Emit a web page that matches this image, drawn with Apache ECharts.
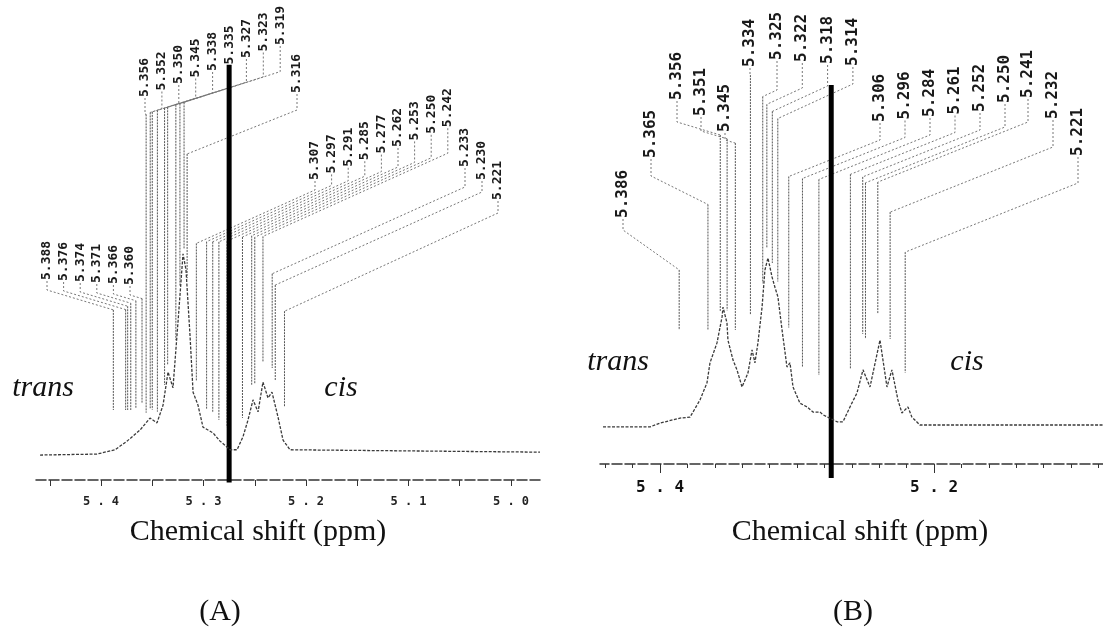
<!DOCTYPE html>
<html>
<head>
<meta charset="utf-8">
<title>trans / cis NMR</title>
<script src="https://cdn.jsdelivr.net/npm/echarts@6/dist/echarts.min.js"></script>
<style>
    html, body { margin: 0; padding: 0; background: #fff; }
    #main { width: 1103px; height: 630px; }
</style>
</head>
<body>
<div id="main"></div>
<script>
// spectrum traces, [ppm, intensity]
var spectrumA = [
    [5.4595, 5.2], [5.4039, 5.4], [5.3863, 6.3], [5.3746, 8.1], [5.3620, 10.4],
    [5.3522, 12.9], [5.3454, 11.9], [5.3395, 15.6], [5.3346, 22.5], [5.3298, 19.2],
    [5.3249, 32.9], [5.3200, 47.1], [5.3171, 43.8], [5.3132, 30.2], [5.3102, 18.3],
    [5.3054, 15.6], [5.3005, 11.0], [5.2907, 9.8], [5.2839, 8.1], [5.2741, 6.3],
    [5.2673, 6.3], [5.2615, 9.0], [5.2566, 12.5], [5.2517, 16.7], [5.2468, 14.2],
    [5.2420, 20.4], [5.2371, 17.1], [5.2332, 18.3], [5.2273, 13.1], [5.2224, 8.3],
    [5.2156, 6.3], [4.9717, 5.8]
];
var spectrumB = [
    [5.4416, 8.0], [5.4073, 8.0], [5.4000, 8.8], [5.3854, 9.9], [5.3781, 10.1],
    [5.3708, 13.8], [5.3657, 17.5], [5.3635, 21.8], [5.3584, 26.1], [5.3547, 31.7],
    [5.3540, 33.8], [5.3511, 30.4], [5.3504, 26.7], [5.3467, 22.4], [5.3438, 20.3],
    [5.3401, 16.6], [5.3358, 19.6], [5.3328, 24.6], [5.3307, 21.8], [5.3285, 26.1],
    [5.3255, 33.8], [5.3234, 41.8], [5.3212, 44.4], [5.3182, 40.3], [5.3161, 38.1],
    [5.3139, 36.0], [5.3109, 28.9], [5.3073, 20.9], [5.3051, 21.8], [5.3029, 16.6],
    [5.2978, 13.1], [5.2927, 12.3], [5.2883, 11.2], [5.2832, 11.2], [5.2810, 10.6],
    [5.2708, 9.1], [5.2664, 9.1], [5.2613, 12.3], [5.2562, 15.3], [5.2518, 20.3],
    [5.2467, 16.6], [5.2394, 26.7], [5.2343, 16.6], [5.2307, 20.3], [5.2263, 13.8],
    [5.2234, 11.0], [5.2190, 12.3], [5.2161, 10.1], [5.2102, 8.4], [5.0766, 8.4]
];

// picked peaks (ppm)
var peaksA = [
    5.388, 5.376, 5.374, 5.371, 5.366, 5.360,
    5.356, 5.352, 5.350, 5.345, 5.338, 5.335, 5.327, 5.323, 5.319,
    5.316,
    5.307, 5.297, 5.291, 5.285, 5.277, 5.262, 5.253, 5.250, 5.242,
    5.233, 5.230,
    5.221
];
var peaksB = [
    5.386, 5.365, 5.356, 5.351, 5.345, 5.334, 5.325, 5.322, 5.318, 5.314,
    5.306, 5.296, 5.284, 5.261, 5.252, 5.250, 5.241, 5.232, 5.221
];

// axis ticks and labels
var ticksA = [5.45, 5.40, 5.35, 5.30, 5.25, 5.20, 5.15, 5.10, 5.05, 5.00];
var labelsA = [5.4, 5.3, 5.2, 5.1, 5.0];
var ticksB = [5.44, 5.42, 5.40, 5.38, 5.36, 5.34, 5.32, 5.30, 5.28, 5.26,
    5.24, 5.22, 5.20, 5.18, 5.16, 5.14, 5.12, 5.10, 5.08];
var labelsB = [5.4, 5.2];

var dividerPpm = 5.275;

// label layout (pixels): n peaks per block, text x / bottom, tick length,
// slope of the slanted leader, gap above the trace, lowest end of drop line
var layoutA = [
    { n: 6, x0: 47, dx: 16.6, y0: 280, dy: 1, t0: 10, dt: 0, slope: 0.3, gap: 25, cap: 410 },
    { n: 9, x0: 145, dx: 16.9, y0: 97, dy: -6.5, t0: 17, dt: 1.2, slope: 0.32, gap: 10 },
    { n: 1, x0: 297, dx: 0, y0: 93, dy: 0, t0: 17, dt: 0, slope: 0.4, gap: 10 },
    { n: 9, x0: 315, dx: 16.6, y0: 180, dy: -6.6, t0: 10, dt: 2, slope: 0.45, gap: 20 },
    { n: 2, x0: 465, dx: 17, y0: 167, dy: 13, t0: 20, dt: -8, slope: 0.45, gap: 25 },
    { n: 1, x0: 498, dx: 0, y0: 200, dy: 0, t0: 13, dt: 0, slope: 0.46, gap: 35 }
];
var layoutB = [
    { n: 1, x0: 623, dx: 0, y0: 218, dy: 0, t0: 12, dt: 0, slope: 0.71, gap: 15, cap: 330 },
    { n: 1, x0: 651, dx: 0, y0: 158, dy: 0, t0: 18, dt: 0, slope: 0.5, gap: 15, cap: 330 },
    { n: 3, x0: 677, dx: 24, y0: 100, dy: 16, t0: 22, dt: -7, slope: 0.3, gap: 15, cap: 330 },
    { n: 1, x0: 750, dx: 0, y0: 67, dy: 0, t0: 8, dt: 0, slope: 0.3, gap: 15, cap: 315 },
    { n: 4, x0: 777, dx: 25.3, y0: 60, dy: 2, t0: 30, dt: -4, slope: 0.46, gap: 15, cap: 330 },
    { n: 5, x0: 880, dx: 25, y0: 122, dy: -2.5, t0: 18, dt: 0, slope: 0.4, gap: 37 },
    { n: 2, x0: 1005, dx: 23, y0: 103, dy: -5, t0: 24, dt: 0, slope: 0.4, gap: 37 },
    { n: 1, x0: 1053, dx: 0, y0: 119, dy: 0, t0: 28, dt: 0, slope: 0.4, gap: 37 },
    { n: 1, x0: 1078, dx: 0, y0: 156, dy: 0, t0: 27, dt: 0, slope: 0.4, gap: 37 }
];

var monoFont = '"DejaVu Sans Mono", "Liberation Mono", monospace';
var serifFont = '"Liberation Serif", "DejaVu Serif", serif';

function valueAt(spec, ppm) {
    for (var i = 0; i < spec.length - 1; i++) {
        var a = spec[i], b = spec[i + 1];
        if (ppm <= a[0] && ppm >= b[0]) {
            return a[1] + (b[1] - a[1]) * (a[0] - ppm) / (a[0] - b[0]);
        }
    }
    return spec[spec.length - 1][1];
}

function peakLabels(api, peaks, layout, spec, fontSize, divider) {
    var children = [];
    var k = 0;
    layout.forEach(function (g) {
        for (var i = 0; i < g.n; i++, k++) {
            var ppm = peaks[k];
            var tx = g.x0 + g.dx * i;
            var bottom = g.y0 + g.dy * i;
            var tickEnd = bottom + g.t0 + g.dt * i;
            var dropX = api.coord([ppm, 0])[0];
            var knee = tickEnd + Math.abs(dropX - tx) * g.slope;
            var specY = api.coord([ppm, valueAt(spec, ppm)])[1];
            var dropEnd = Math.min(g.cap || 9999, specY - g.gap);
            if (dropEnd < knee) dropEnd = knee;
            children.push({
                type: 'polyline',
                shape: { points: [[tx, bottom + 1], [tx, tickEnd], [dropX, knee]] },
                style: { stroke: '#777', lineWidth: 1, fill: null, lineDash: [2, 2] }
            });
            children.push({
                type: 'line',
                shape: { x1: dropX, y1: knee, x2: dropX, y2: dropEnd },
                style: { stroke: '#555', lineWidth: 1, lineDash: [2, 1] }
            });
            children.push({
                type: 'text',
                x: tx,
                y: bottom,
                rotation: Math.PI / 2,
                style: {
                    text: ppm.toFixed(3),
                    fontFamily: monoFont,
                    fontWeight: 'bold',
                    fontSize: fontSize,
                    fill: '#1a1a1a',
                    align: 'left',
                    verticalAlign: 'middle'
                }
            });
        }
    });
    var top = api.coord([divider.ppm, divider.top]);
    var bot = api.coord([divider.ppm, divider.bottom]);
    children.push({
        type: 'line',
        shape: { x1: top[0], y1: top[1], x2: bot[0], y2: bot[1] },
        style: { stroke: '#000', lineWidth: 5 }
    });
    return { type: 'group', children: children };
}

function spacedLabel(v) {
    return v.toFixed(1).split('').join(' ');
}

var myChart = echarts.init(document.getElementById('main'));

var option = {
    animation: false,
    backgroundColor: '#fff',
    grid: [
        { left: 34, right: 563, top: 0, bottom: 150, outerBoundsMode: 'none' },
        { left: 600, right: 0, top: 0, bottom: 166, outerBoundsMode: 'none' }
    ],
    xAxis: [
        {
            type: 'value', gridIndex: 0, inverse: true, position: 'bottom',
            min: 4.9717, max: 5.4654,
            splitLine: { show: false },
            axisLine: { onZero: false, lineStyle: { color: '#333', width: 1.5, type: [10, 3] } },
            axisTick: { customValues: ticksA, length: 6, lineStyle: { color: '#333' } },
            axisLabel: {
                customValues: labelsA, formatter: spacedLabel, margin: 16,
                fontFamily: monoFont, fontWeight: 'bold', fontSize: 12, color: '#222'
            }
        },
        {
            type: 'value', gridIndex: 1, inverse: true, position: 'bottom',
            min: 5.0766, max: 5.4438,
            splitLine: { show: false },
            axisLine: { onZero: false, lineStyle: { color: '#333', width: 1.5, type: [10, 3] } },
            axisTick: { customValues: ticksB, length: 4, lineStyle: { color: '#333' } },
            axisLabel: { show: false }
        },
        {
            type: 'value', gridIndex: 1, inverse: true, position: 'bottom',
            min: 5.0766, max: 5.4438,
            splitLine: { show: false },
            axisLine: { show: false, onZero: false },
            axisTick: { customValues: labelsB, length: 9, lineStyle: { color: '#333' } },
            axisLabel: {
                customValues: labelsB, formatter: spacedLabel, margin: 16,
                fontFamily: monoFont, fontWeight: 'bold', fontSize: 16, color: '#111'
            }
        }
    ],
    yAxis: [
        { type: 'value', gridIndex: 0, min: 0, max: 100, show: false },
        { type: 'value', gridIndex: 1, min: 0, max: 100, show: false }
    ],
    series: [
        {
            name: 'A', type: 'line', xAxisIndex: 0, yAxisIndex: 0,
            data: spectrumA, showSymbol: false, silent: true,
            lineStyle: { color: '#3a3a3a', width: 1.3, type: [3, 1.5] }
        },
        {
            name: 'B', type: 'line', xAxisIndex: 1, yAxisIndex: 1,
            data: spectrumB, showSymbol: false, silent: true,
            lineStyle: { color: '#3a3a3a', width: 1.3, type: [3, 1.5] }
        },
        {
            type: 'custom', xAxisIndex: 0, yAxisIndex: 0, silent: true,
            data: [[0, 0]],
            renderItem: function (params, api) {
                return peakLabels(api, peaksA, layoutA, spectrumA, 13,
                    { ppm: dividerPpm, top: 86.5, bottom: -0.5 });
            }
        },
        {
            type: 'custom', xAxisIndex: 1, yAxisIndex: 1, silent: true,
            data: [[0, 0]],
            renderItem: function (params, api) {
                return peakLabels(api, peaksB, layoutB, spectrumB, 16,
                    { ppm: dividerPpm, top: 81.7, bottom: -3 });
            }
        }
    ],
    graphic: [
        { type: 'text', x: 43, y: 388, style: { text: 'trans', font: 'italic 30px ' + serifFont, fill: '#111', align: 'center', verticalAlign: 'middle', textAlign: 'center', textVerticalAlign: 'middle' } },
        { type: 'text', x: 341, y: 388, style: { text: 'cis', font: 'italic 30px ' + serifFont, fill: '#111', align: 'center', verticalAlign: 'middle', textAlign: 'center', textVerticalAlign: 'middle' } },
        { type: 'text', x: 618, y: 362, style: { text: 'trans', font: 'italic 30px ' + serifFont, fill: '#111', align: 'center', verticalAlign: 'middle', textAlign: 'center', textVerticalAlign: 'middle' } },
        { type: 'text', x: 967, y: 362, style: { text: 'cis', font: 'italic 30px ' + serifFont, fill: '#111', align: 'center', verticalAlign: 'middle', textAlign: 'center', textVerticalAlign: 'middle' } },
        { type: 'text', x: 258, y: 532, style: { text: 'Chemical shift (ppm)', font: '30px ' + serifFont, fill: '#111', align: 'center', verticalAlign: 'middle', textAlign: 'center', textVerticalAlign: 'middle' } },
        { type: 'text', x: 860, y: 532, style: { text: 'Chemical shift (ppm)', font: '30px ' + serifFont, fill: '#111', align: 'center', verticalAlign: 'middle', textAlign: 'center', textVerticalAlign: 'middle' } },
        { type: 'text', x: 220, y: 612, style: { text: '(A)', font: '30px ' + serifFont, fill: '#111', align: 'center', verticalAlign: 'middle', textAlign: 'center', textVerticalAlign: 'middle' } },
        { type: 'text', x: 853, y: 612, style: { text: '(B)', font: '30px ' + serifFont, fill: '#111', align: 'center', verticalAlign: 'middle', textAlign: 'center', textVerticalAlign: 'middle' } }
    ]
};

myChart.setOption(option);
</script>
</body>
</html>
